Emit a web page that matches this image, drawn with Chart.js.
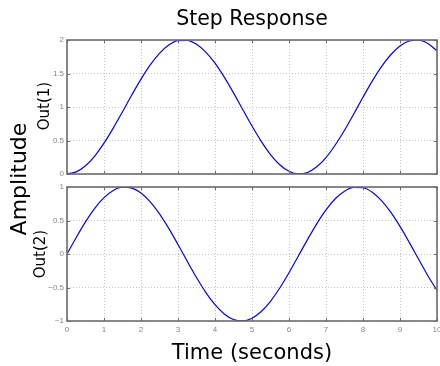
<!DOCTYPE html>
<html><head><meta charset="utf-8">
<script src="https://cdn.jsdelivr.net/npm/chart.js@4/dist/chart.umd.min.js"></script>
<style>
html,body{margin:0;padding:0;background:#fff;}
#wrap{position:relative;width:440px;height:366px;overflow:hidden;background:#fff;font-family:"DejaVu Sans",sans-serif;}
canvas{position:absolute;left:0;}
.lbl{position:absolute;white-space:nowrap;color:#000;line-height:1;transform-origin:center center;}
</style></head><body>
<div id="wrap">
<canvas id="c1" width="440" height="186" style="top:0px"></canvas>
<canvas id="c2" width="440" height="186" style="top:180px"></canvas>
<div class="lbl" id="title" style="font-size:20.5px;left:252px;top:18px;transform:translate(-50%,-50%);">Step Response</div>
<div class="lbl" id="xlab" style="font-size:21px;left:252px;top:352px;transform:translate(-50%,-50%);">Time (seconds)</div>
<div class="lbl" id="amp" style="font-size:22px;left:19px;top:179px;transform:translate(-50%,-50%) rotate(-90deg);">Amplitude</div>
<div class="lbl" id="o1" style="font-size:15px;left:44px;top:106px;transform:translate(-50%,-50%) rotate(-90deg);">Out(1)</div>
<div class="lbl" id="o2" style="font-size:15px;left:40px;top:254px;transform:translate(-50%,-50%) rotate(-90deg);">Out(2)</div>
</div>
<script>
// ---- data ----
const time = [0,0.25,0.5,0.75,1,1.25,1.5,1.75,2,2.25,2.5,2.75,3,3.25,3.5,3.75,4,4.25,4.5,4.75,5,5.25,5.5,5.75,6,6.25,6.5,6.75,7,7.25,7.5,7.75,8,8.25,8.5,8.75,9,9.25,9.5,9.75,10];
const out1 = [0,0.031,0.122,0.268,0.460,0.685,0.929,1.178,1.416,1.628,1.801,1.924,1.990,1.994,1.936,1.820,1.654,1.446,1.211,0.962,0.716,0.488,0.291,0.139,0.040,0.001,0.023,0.107,0.246,0.433,0.653,0.895,1.146,1.386,1.602,1.780,1.911,1.985,1.997,1.948,1.839];
const out2 = [0,0.247,0.479,0.682,0.841,0.949,0.997,0.984,0.909,0.778,0.598,0.382,0.141,-0.108,-0.351,-0.572,-0.757,-0.895,-0.978,-0.999,-0.959,-0.859,-0.706,-0.508,-0.279,-0.033,0.215,0.450,0.657,0.824,0.938,0.994,0.989,0.923,0.798,0.625,0.412,0.174,-0.075,-0.320,-0.544];
const xTickLabels = ['0','1','2','3','4','5','6','7','8','9','10'];
const yTickLabels1 = ['0','0.5','1','1.5','2'];
const yTickLabels2 = ['\u22121','\u22120.5','0','0.5','1'];

const FRAME = '#6c6c6c';
const framePlugin = {
  id: 'frame',
  afterDraw(chart) {
    const a = chart.chartArea, ctx = chart.ctx;
    const xs = chart.scales.x, ys = chart.scales.y;
    ctx.save();
    ctx.strokeStyle = FRAME;
    ctx.lineWidth = 1;
    const L = 3;
    ctx.beginPath();
    xs.ticks.forEach(t => {
      const px = Math.round(xs.getPixelForValue(t.value)) + 0.5;
      ctx.moveTo(px, a.top); ctx.lineTo(px, a.top + L);
      ctx.moveTo(px, a.bottom); ctx.lineTo(px, a.bottom - L);
    });
    ys.ticks.forEach(t => {
      const py = Math.round(ys.getPixelForValue(t.value)) + 0.5;
      ctx.moveTo(a.left, py); ctx.lineTo(a.left + L, py);
      ctx.moveTo(a.right, py); ctx.lineTo(a.right - L, py);
    });
    ctx.stroke();
    ctx.lineWidth = 1.6;
    ctx.strokeRect(a.left, a.top, a.right - a.left, a.bottom - a.top);
    ctx.restore();
  }
};

function makeChart(id, values, yMin, yMax, yLabels, showX, padTop, padBottom, xHeight) {
  return new Chart(document.getElementById(id), {
    type: 'line',
    data: {
      datasets: [{
        data: time.map((t, i) => ({x: t, y: values[i]})),
        borderColor: '#0000ff',
        borderWidth: 1.2,
        pointRadius: 0,
        fill: false,
        cubicInterpolationMode: 'monotone'
      }]
    },
    options: {
      responsive: false,
      animation: false,
      devicePixelRatio: 1,
      layout: {padding: {left: 0, right: 3, top: padTop, bottom: padBottom}},
      plugins: {legend: {display: false}, tooltip: {enabled: false}, title: {display: false}},
      scales: {
        x: {
          type: 'linear', min: 0, max: 10,
          grid: {color: '#c4c4c4', lineWidth: 1, drawTicks: false},
          border: {display: false, dash: [1, 2]},
          ticks: {
            display: showX, stepSize: 1, padding: 4, maxRotation: 0, autoSkip: false,
            color: '#858585', font: {family: 'Liberation Sans', size: 8},
            callback: (v, i) => xTickLabels[i]
          },
          afterFit: s => { s.height = xHeight; s.paddingLeft = 0; s.paddingRight = 0; }
        },
        y: {
          min: yMin, max: yMax,
          grid: {color: '#c4c4c4', lineWidth: 1, drawTicks: false},
          border: {display: false, dash: [1, 2]},
          ticks: {
            stepSize: 0.5, padding: 3, autoSkip: false,
            color: '#858585', font: {family: 'Liberation Sans', size: 8},
            callback: (v, i) => yLabels[i]
          },
          afterFit: s => { s.width = 67; s.paddingTop = 0; s.paddingBottom = 0; }
        }
      }
    },
    plugins: [framePlugin]
  });
}

makeChart('c1', out1, 0, 2, yTickLabels1, false, 40, 12, 0);
makeChart('c2', out2, -1, 1, yTickLabels2, true, 7, 25, 20);
</script>
</body></html>
